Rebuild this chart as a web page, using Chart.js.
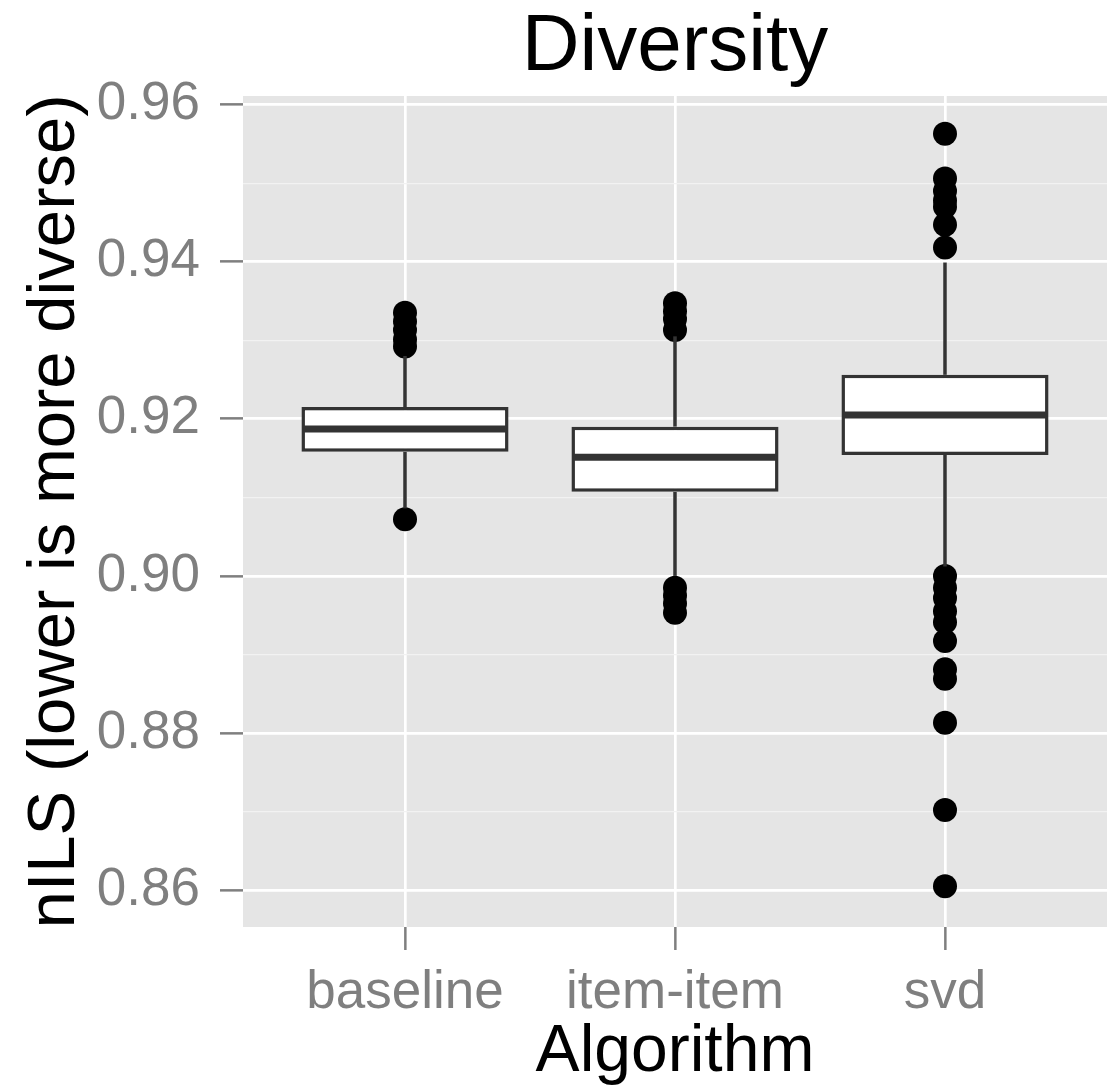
<!DOCTYPE html>
<html lang="en">
<head>
<meta charset="UTF-8">
<title>Diversity</title>
<script src="https://cdn.jsdelivr.net/npm/chart.js@4"></script>
<style>
  html, body { margin: 0; padding: 0; background: #fff; }
</style>
</head>
<body>
<canvas id="chart" width="1110" height="1092"></canvas>
<script>
// categories and box statistics
const algorithms = ['baseline', 'item-item', 'svd'];
const lowerWhisker = [0.9086, 0.9000, 0.9012];
const q1 = [0.9158, 0.9107, 0.9154];
const median = [0.9187, 0.9151, 0.9205];
const q3 = [0.9215, 0.9190, 0.9256];
const upperWhisker = [0.9280, 0.9305, 0.9399];
const outliers = [
    [0.9335, 0.9324, 0.9313, 0.9301, 0.9292, 0.9072],
    [0.9347, 0.9337, 0.9327, 0.9313, 0.8985, 0.8975, 0.8965, 0.8953],
    [0.9563, 0.9506, 0.9490, 0.9478, 0.9470, 0.9447, 0.9418,
     0.9000, 0.8985, 0.8972, 0.8955, 0.8941, 0.8917, 0.8881, 0.8869,
     0.8813, 0.8702, 0.8605]
];
const yMajor = [0.86, 0.88, 0.90, 0.92, 0.94, 0.96];
const yMinor = [0.87, 0.89, 0.91, 0.93, 0.95];

const FONT = '"Liberation Sans", Arial, Helvetica, sans-serif';
const GREY = '#7f7f7f';
const isMajor = v => yMajor.some(m => Math.abs(m - v) < 1e-9);

// panel background
const panelBg = {
    id: 'panelBg',
    beforeDraw(chart) {
        const { ctx, chartArea: a } = chart;
        ctx.save();
        ctx.fillStyle = '#ffffff';
        ctx.fillRect(0, 0, chart.width, chart.height);
        ctx.fillStyle = '#e5e5e5';
        ctx.fillRect(a.left, a.top, a.right - a.left, a.bottom - a.top);
        ctx.restore();
    }
};

// median line across each box
const medianLines = {
    id: 'medianLines',
    afterDatasetsDraw(chart) {
        const ctx = chart.ctx;
        const yScale = chart.scales.y;
        const boxes = chart.getDatasetMeta(0).data;
        ctx.save();
        ctx.strokeStyle = '#333333';
        ctx.lineWidth = 7;
        boxes.forEach((el, i) => {
            const y = yScale.getPixelForValue(median[i]);
            const half = el.width / 2 - 2;
            ctx.beginPath();
            ctx.moveTo(el.x - half, y);
            ctx.lineTo(el.x + half, y);
            ctx.stroke();
        });
        ctx.restore();
    }
};

const boxData = algorithms.map((a, i) => ({ x: i + 1, y: [q1[i], q3[i]] }));
const upperData = algorithms.map((a, i) => ({ x: i + 1, y: [q3[i], upperWhisker[i]] }));
const lowerData = algorithms.map((a, i) => ({ x: i + 1, y: [lowerWhisker[i], q1[i]] }));
const outlierData = [];
outliers.forEach((list, i) => list.forEach(v => outlierData.push({ x: i + 1, y: v })));

new Chart(document.getElementById('chart'), {
    type: 'bar',
    data: {
        datasets: [{
            data: boxData,
            backgroundColor: '#ffffff',
            borderColor: '#333333',
            borderWidth: 3.5,
            borderSkipped: false,
            barPercentage: 0.767,
            categoryPercentage: 1,
            grouped: false
        }, {
            data: upperData,
            backgroundColor: '#333333',
            borderWidth: 0,
            barPercentage: 0.013,
            categoryPercentage: 1,
            grouped: false
        }, {
            data: lowerData,
            backgroundColor: '#333333',
            borderWidth: 0,
            barPercentage: 0.013,
            categoryPercentage: 1,
            grouped: false
        }, {
            type: 'scatter',
            data: outlierData,
            backgroundColor: '#000000',
            borderWidth: 0,
            pointRadius: 12
        }]
    },
    options: {
        responsive: false,
        animation: false,
        devicePixelRatio: 1,
        layout: { autoPadding: false, padding: { left: 0, right: 3, top: 0, bottom: 0 } },
        plugins: {
            legend: { display: false },
            tooltip: { enabled: false },
            title: {
                display: true,
                text: 'Diversity',
                color: '#000000',
                fullSize: false,
                padding: 0,
                font: { family: FONT, size: 80, weight: 'normal', lineHeight: 1.2 }
            }
        },
        scales: {
            x: {
                type: 'linear',
                min: 0.4,
                max: 3.6,
                offset: false,
                afterBuildTicks: s => { s.ticks = algorithms.map((a, i) => ({ value: i + 1 })); },
                afterFit: s => { s.height = 165; s.paddingLeft = 0; s.paddingRight = 0; },
                border: { display: false },
                grid: {
                    offset: false,
                    color: '#ffffff',
                    lineWidth: 2.7,
                    tickColor: GREY,
                    tickWidth: 2.5,
                    tickLength: 23
                },
                ticks: {
                    autoSkip: false,
                    maxRotation: 0,
                    padding: 12,
                    color: GREY,
                    font: { family: FONT, size: 53 },
                    callback: v => algorithms[v - 1]
                },
                title: {
                    display: true,
                    text: 'Algorithm',
                    color: '#000000',
                    padding: { top: 0, bottom: 0 },
                    font: { family: FONT, size: 66, lineHeight: 1.2 }
                }
            },
            y: {
                type: 'linear',
                min: 0.8553,
                max: 0.9611,
                beginAtZero: false,
                afterBuildTicks: s => {
                    s.ticks = yMajor.concat(yMinor).sort((a, b) => a - b).map(v => ({ value: v }));
                },
                afterFit: s => { s.width = 243; },
                border: { display: false },
                grid: {
                    color: c => (c.tick && isMajor(c.tick.value)) ? '#ffffff' : '#f2f2f2',
                    lineWidth: c => (c.tick && isMajor(c.tick.value)) ? 2.7 : 1.3,
                    tickColor: c => (c.tick && isMajor(c.tick.value)) ? GREY : 'rgba(0,0,0,0)',
                    tickWidth: 2.5,
                    tickLength: 23
                },
                ticks: {
                    autoSkip: false,
                    padding: 20,
                    color: GREY,
                    font: { family: FONT, size: 53 },
                    callback: v => isMajor(v) ? v.toFixed(2) : ''
                },
                title: {
                    display: true,
                    text: 'nILS (lower is more diverse)',
                    color: '#000000',
                    padding: { top: 15, bottom: 0 },
                    font: { family: FONT, size: 67, lineHeight: 1.2 }
                }
            }
        }
    },
    plugins: [panelBg, medianLines]
});
</script>
</body>
</html>
